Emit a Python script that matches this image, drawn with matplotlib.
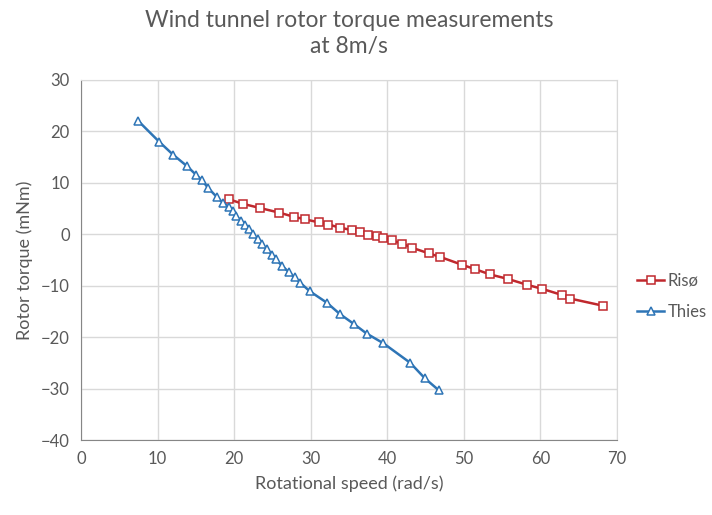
import matplotlib
matplotlib.use("Agg")
import matplotlib.pyplot as plt

plt.rcParams['font.family'] = ['Lato', 'DejaVu Sans']

# Risø rotor
riso_speed = [19.3, 21.2, 23.4, 25.9, 27.8, 29.3, 31.1, 32.3, 33.8, 35.4, 36.4,
              37.5, 38.6, 39.5, 40.6, 41.9, 43.2, 45.4, 46.9, 49.7, 51.5, 53.4,
              55.8, 58.2, 60.2, 62.8, 63.9, 68.2]
riso_torque = [6.8, 5.9, 5.1, 4.2, 3.4, 2.9, 2.3, 1.9, 1.3, 0.8, 0.4,
               -0.1, -0.4, -0.7, -1.2, -1.8, -2.6, -3.7, -4.4, -5.9, -6.8, -7.8,
               -8.7, -9.8, -10.6, -11.8, -12.5, -13.9]

# Thies rotor
thies_speed = [7.5, 10.2, 12.0, 13.8, 15.0, 15.8, 16.6, 17.7, 18.6, 19.3, 19.8,
               20.3, 20.9, 21.4, 21.9, 22.5, 23.1, 23.6, 24.3, 24.9, 25.4, 26.3,
               27.1, 27.9, 28.6, 29.9, 32.1, 33.8, 35.6, 37.3, 39.5, 43.0, 44.9, 46.7]
thies_torque = [22.0, 18.0, 15.5, 13.3, 11.6, 10.5, 9.0, 7.3, 6.0, 5.4, 4.5,
                3.5, 2.6, 1.8, 1.0, 0.0, -1.0, -1.9, -2.9, -4.0, -4.8, -6.2,
                -7.3, -8.4, -9.4, -11.1, -13.3, -15.5, -17.4, -19.3, -21.2, -25.0, -28.0, -30.3]

x_ticks = [0, 10, 20, 30, 40, 50, 60, 70]
y_ticks = [30, 20, 10, 0, -10, -20, -30, -40]

txt = '#595959'

fig = plt.figure(figsize=(7.12, 5.15), dpi=100)
ax = fig.add_axes([0.1138, 0.1456, 0.7528, 0.6991])

ax.plot(riso_speed, riso_torque, color='#C0282D', lw=1.8, marker='s', ms=6,
        mfc='white', mec='#C0282D', mew=1.1, label='Risø', zorder=3)
ax.plot(thies_speed, thies_torque, color='#2E75B6', lw=1.8, marker='^', ms=6,
        mfc='white', mec='#2E75B6', mew=1.1, label='Thies', zorder=3)

ax.set_xlim(0, 70)
ax.set_ylim(-40, 30)
ax.set_xticks(x_ticks)
ax.set_yticks(y_ticks)
ax.grid(True, color='#D9D9D9', lw=1)
ax.set_axisbelow(True)
for s in ['top', 'right']:
    ax.spines[s].set_color('#D9D9D9')
for s in ['left', 'bottom']:
    ax.spines[s].set_color('#868686')
ax.tick_params(colors=txt, labelsize=12, length=0, pad=8)

ax.set_xlabel('Rotational speed (rad/s)', color=txt, fontsize=13, labelpad=6)
ax.set_ylabel('Rotor torque (mNm)', color=txt, fontsize=13, labelpad=6)
fig.suptitle('Wind tunnel rotor torque measurements\nat 8m/s', color=txt,
             fontsize=16.5, y=0.98, x=0.49, linespacing=1.3)

ax.legend(loc='center left', bbox_to_anchor=(1.01, 0.4), frameon=False,
          fontsize=12, labelcolor=txt, handlelength=1.6, handletextpad=0.2,
          labelspacing=0.9, markerscale=0.85)

fig.savefig('out.png', dpi=100)
